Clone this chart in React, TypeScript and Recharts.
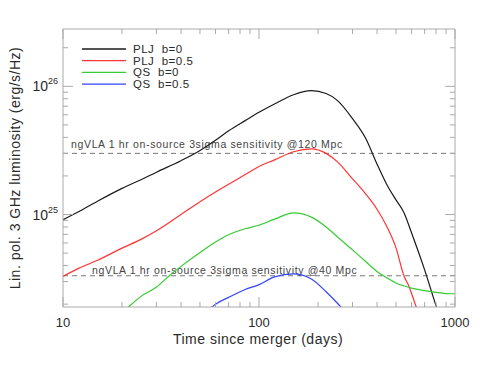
import { LineChart, Line, XAxis, YAxis, ReferenceLine } from 'recharts'

const pljB0Days = [10, 12, 15, 20, 25, 30, 40, 50, 60, 70, 85, 100, 120, 150, 185, 220, 250, 300, 350, 400, 450, 500, 550, 600, 700, 800, 850]
const pljB0Lum = [9.1e24, 1.05e25, 1.27e25, 1.6e25, 1.87e25, 2.14e25, 2.63e25, 3.16e25, 3.8e25, 4.5e25, 5.4e25, 6.27e25, 7.28e25, 8.6e25, 9.25e25, 8.8e25, 7.8e25, 5.6e25, 3.94e25, 2.48e25, 1.7e25, 1.3e25, 1.03e25, 7.2e24, 3.7e24, 1.95e24, 1.5e24]

const pljB05Days = [10, 12, 15, 20, 25, 30, 40, 50, 60, 70, 85, 100, 120, 150, 185, 220, 250, 300, 350, 400, 450, 500, 550, 580, 620, 660]
const pljB05Lum = [3.29e24, 3.8e24, 4.4e24, 5.47e24, 6.4e24, 7.46e24, 1.0e25, 1.26e25, 1.5e25, 1.72e25, 2.05e25, 2.37e25, 2.67e25, 3.09e25, 3.25e25, 3.0e25, 2.6e25, 1.9e25, 1.45e25, 1.1e25, 8.0e24, 5.5e24, 3.3e24, 2.8e24, 2.1e24, 1.6e24]

const qsB0Days = [20, 22, 25, 30, 35, 40, 50, 60, 70, 85, 100, 120, 150, 185, 220, 250, 300, 350, 400, 450, 500, 600, 700, 800, 900, 1000]
const qsB0Lum = [1.7e24, 1.95e24, 2.3e24, 2.72e24, 3.35e24, 3.94e24, 5.06e24, 6.1e24, 6.95e24, 7.75e24, 8.25e24, 9.2e24, 1.03e25, 9.55e24, 8.0e24, 6.74e24, 5.3e24, 4.3e24, 3.6e24, 3.2e24, 2.92e24, 2.67e24, 2.55e24, 2.47e24, 2.42e24, 2.41e24]

const qsB05Days = [55, 60, 70, 85, 100, 120, 150, 185, 220, 250, 270]
const qsB05Lum = [1.8e24, 2.0e24, 2.26e24, 2.6e24, 2.84e24, 3.26e24, 3.44e24, 3.14e24, 2.5e24, 2.05e24, 1.8e24]

const seriesNames = ['PLJ  b=0', 'PLJ  b=0.5', 'QS  b=0', 'QS  b=0.5']
const seriesColors = ['#1a1a1a', '#ff3333', '#33cc33', '#3344ff']

const sens120 = 3.0e25
const sens40 = 3.33e24
const sens120Label = 'ngVLA 1 hr on-source 3sigma sensitivity @120 Mpc'
const sens40Label = 'ngVLA 1 hr on-source 3sigma sensitivity @40 Mpc'

const xTicks = [10, 20, 30, 40, 50, 60, 70, 80, 90, 100, 200, 300, 400, 500, 600, 700, 800, 900, 1000]
const xMajor = [10, 100, 1000]
const yTicks = [2e24, 3e24, 4e24, 5e24, 6e24, 7e24, 8e24, 9e24, 1e25, 2e25, 3e25, 4e25, 5e25, 6e25, 7e25, 8e25, 9e25, 1e26, 2e26]

const toData = (days: number[], lum: number[]) => days.map((t, i) => ({ t, v: lum[i] }))
const seriesData = [
  toData(pljB0Days, pljB0Lum),
  toData(pljB05Days, pljB05Lum),
  toData(qsB0Days, qsB0Lum),
  toData(qsB05Days, qsB05Lum),
]

const FONT = '"Liberation Sans", Arial, sans-serif'
const FRAME = '#aaaaaa'
const INK = '#2a2a2a'

const isMajorY = (v: number) => Math.abs(Math.log10(v) - Math.round(Math.log10(v))) < 1e-6

const XTick = (props: any) => {
  const { x, y, payload, top } = props
  const major = xMajor.includes(payload.value)
  const len = major ? 10 : 5
  return (
    <g>
      <line x1={x} x2={x} y1={y} y2={top ? y + len : y - len} stroke={FRAME} />
      {!top && major && (
        <text x={x} y={y + 20} textAnchor="middle" fontSize={13} fontFamily={FONT} fill={INK}>
          {payload.value}
        </text>
      )}
    </g>
  )
}

const YTick = (props: any) => {
  const { x, y, payload, right } = props
  const major = isMajorY(payload.value)
  const len = major ? 10 : 5
  const exp = Math.round(Math.log10(payload.value))
  return (
    <g>
      <line x1={x} x2={right ? x - len : x + len} y1={y} y2={y} stroke={FRAME} />
      {!right && major && (
        <text x={x - 5} y={y + 5} textAnchor="end" fontSize={14} fontFamily={FONT} fill={INK}>
          <tspan>10</tspan>
          <tspan dy={-7} fontSize={9}>{exp}</tspan>
        </text>
      )}
    </g>
  )
}

const RefLabel = (props: any) => {
  const { viewBox, text, dx, dy } = props
  return (
    <text x={viewBox.x + dx} y={viewBox.y + dy} fontSize={10.5} fontFamily={FONT} fill="#444" letterSpacing={0.65}>
      {text}
    </text>
  )
}

const axisCommon = {
  dataKey: 'v',
  type: 'number' as const,
  scale: 'log' as const,
  interval: 0,
  tickSize: 0,
  tickMargin: 0,
  tickLine: false,
  axisLine: { stroke: FRAME },
  allowDataOverflow: true,
}

export default function App() {
  return (
    <div style={{ position: 'absolute', left: 0, top: 0, width: 480, height: 371, background: '#fff' }}>
      <LineChart width={480} height={371} margin={{ top: 28, right: 24, bottom: 63, left: 62 }}>
        <XAxis {...axisCommon} xAxisId="b" dataKey="t" domain={[10, 1000]} ticks={xTicks} height={1} tick={<XTick />} />
        <XAxis
          {...axisCommon}
          xAxisId="t"
          orientation="top"
          dataKey="t"
          domain={[10, 1000]}
          ticks={xTicks}
          height={1}
          tick={<XTick top />}
        />
        <YAxis {...axisCommon} yAxisId="l" domain={[1.9e24, 2.8e26]} ticks={yTicks} width={1} tick={<YTick />} />
        <YAxis
          {...axisCommon}
          yAxisId="r"
          orientation="right"
          domain={[1.9e24, 2.8e26]}
          ticks={yTicks}
          width={1}
          tick={<YTick right />}
        />
        <ReferenceLine
          xAxisId="b"
          yAxisId="l"
          y={sens120}
          stroke="#777"
          strokeDasharray="5 4"
          label={<RefLabel text={sens120Label} dx={8} dy={-5} />}
        />
        <ReferenceLine
          xAxisId="b"
          yAxisId="l"
          y={sens40}
          stroke="#777"
          strokeDasharray="5 4"
          label={<RefLabel text={sens40Label} dx={29} dy={-2} />}
        />
        {seriesData.map((d, i) => (
          <Line
            key={seriesNames[i]}
            xAxisId="b"
            yAxisId="l"
            data={d}
            dataKey="v"
            name={seriesNames[i]}
            type="monotone"
            stroke={seriesColors[i]}
            strokeWidth={1.2}
            dot={false}
            isAnimationActive={false}
          />
        ))}
        <g>
          {seriesNames.map((name, i) => (
            <g key={name}>
              <line x1={82} x2={126} y1={49 + i * 11.7} y2={49 + i * 11.7} stroke={seriesColors[i]} strokeWidth={i === 0 ? 1.6 : 1.2} />
              <text
                x={133}
                y={53 + i * 11.7}
                fontSize={11.5}
                fontFamily={FONT}
                fill={INK}
                letterSpacing={0.5}
                style={{ whiteSpace: 'pre' }}
              >
                {name}
              </text>
            </g>
          ))}
        </g>
        <text x={258} y={344} textAnchor="middle" fontSize={14} fontFamily={FONT} fill={INK} letterSpacing={0.5}>
          Time since merger (days)
        </text>
        <text
          x={20}
          y={168}
          transform="rotate(-90 20 168)"
          textAnchor="middle"
          fontSize={14}
          fontFamily={FONT}
          fill={INK}
          letterSpacing={0.5}
        >
          Lin. pol. 3 GHz luminosity (erg/s/Hz)
        </text>
      </LineChart>
    </div>
  )
}
